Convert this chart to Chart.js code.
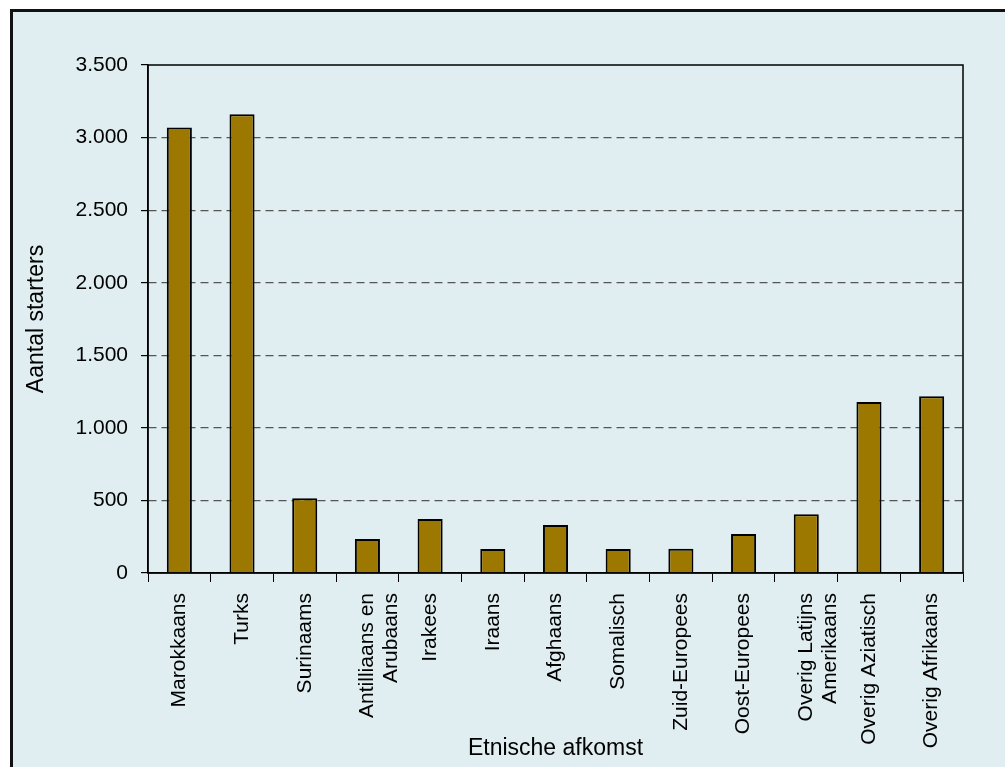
<!DOCTYPE html>
<html lang="nl">
<head>
<meta charset="UTF-8">
<script src="https://cdn.jsdelivr.net/npm/chart.js"></script>
<style>
    body { margin: 0; background: #fff; }
    #kader {
        position: absolute; left: 10px; top: 9px;
        width: 992px; height: 755px;
        background: #e0eef2;
        border-top: 3px solid #111; border-left: 3px solid #111;
    }
    #grafiek { display: block; }
</style>
</head>
<body>
<div id="kader">
    <canvas id="grafiek" width="992" height="755"></canvas>
</div>
<script>
    // categorieen en aantallen
    const afkomst = ['Marokkaans', 'Turks', 'Surinaams', ['Antilliaans en', 'Arubaans'], 'Irakees', 'Iraans',
        'Afghaans', 'Somalisch', 'Zuid-Europees', 'Oost-Europees', ['Overig Latijns', 'Amerikaans'],
        'Overig Aziatisch', 'Overig Afrikaans'];
    const starters = [3070, 3160, 515, 235, 372, 165, 330, 165, 167, 268, 405, 1178, 1218];
    const yTicks = [0, 500, 1000, 1500, 2000, 2500, 3000, 3500];

    const lettertype = '"Liberation Sans", Arial, sans-serif';

    // rand om het plotgebied
    const randPlugin = {
        id: 'rand',
        afterDraw(chart) {
            const a = chart.chartArea;
            const ctx = chart.ctx;
            ctx.save();
            ctx.strokeStyle = '#000';
            ctx.lineWidth = 1.5;
            ctx.strokeRect(a.left, a.top, a.right - a.left, a.bottom - a.top);
            ctx.restore();
        }
    };

    new Chart(document.getElementById('grafiek'), {
        type: 'bar',
        data: {
            labels: afkomst,
            datasets: [{
                data: starters,
                backgroundColor: '#9c7800',
                borderColor: '#000',
                borderWidth: 2,
                barPercentage: 0.4,
                categoryPercentage: 1
            }]
        },
        plugins: [randPlugin],
        options: {
            responsive: false,
            animation: false,
            layout: { padding: { top: 53, right: 42, left: 0, bottom: 0 } },
            plugins: {
                legend: { display: false },
                tooltip: { enabled: false }
            },
            scales: {
                x: {
                    grid: {
                        drawOnChartArea: false,
                        color: '#000',
                        tickLength: 9,
                        offset: true
                    },
                    border: { color: '#000', width: 1.5 },
                    ticks: {
                        minRotation: 90,
                        maxRotation: 90,
                        autoSkip: false,
                        color: '#000',
                        padding: 11,
                        font: { family: lettertype, size: 21, lineHeight: 1.15 }
                    },
                    title: {
                        display: true,
                        text: 'Etnische afkomst',
                        color: '#000',
                        padding: { top: 0, bottom: 5 },
                        font: { family: lettertype, size: 23 }
                    },
                    afterFit(scale) { scale.height = 194; }
                },
                y: {
                    min: 0,
                    max: 3500,
                    afterBuildTicks(scale) {
                        scale.ticks = yTicks.map(v => ({ value: v }));
                    },
                    grid: {
                        color: ctx => (ctx.tick && (ctx.tick.value === 0 || ctx.tick.value === 3500)) ? 'rgba(0,0,0,0)' : '#555',
                        tickColor: '#000',
                        tickLength: 7,
                        lineWidth: 1.2
                    },
                    border: { color: '#000', width: 1.5, dash: [8, 5] },
                    ticks: {
                        color: '#000',
                        padding: 13,
                        font: { family: lettertype, size: 21 },
                        callback: v => v.toLocaleString('nl-NL')
                    },
                    title: {
                        display: true,
                        text: 'Aantal starters',
                        color: '#000',
                        padding: { top: 10, bottom: 0 },
                        font: { family: lettertype, size: 23 }
                    },
                    afterFit(scale) { scale.width = 135; }
                }
            }
        }
    });
</script>
</body>
</html>
